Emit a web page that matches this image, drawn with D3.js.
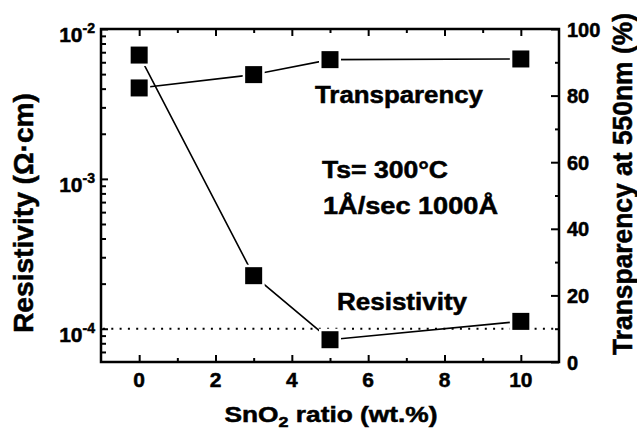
<!DOCTYPE html>
<html><head><meta charset="utf-8">
<script src="https://cdn.jsdelivr.net/npm/d3@7"></script>
<style>
html,body{margin:0;padding:0;background:#fff;}
text{font-family:"Liberation Sans",Arial,Helvetica,sans-serif;font-weight:bold;fill:#000;stroke:#000;stroke-width:0.5px;}
</style></head>
<body>
<svg id="chart" width="637" height="430"></svg>
<script>
// ---- data ----
const ratio = [0, 3, 5, 10];
const resistivity = [6.7e-3, 2.26e-4, 8.45e-5, 1.12e-4];
const transparency = [82.3, 86.3, 90.8, 91.0];
const xTicks = [0, 2, 4, 6, 8, 10];
const xMinorTicks = [1, 3, 5, 7, 9];
const rightTicks = [0, 20, 40, 60, 80, 100];
const rightMinorTicks = [10, 30, 50, 70, 90];
const leftTicks = [1e-2, 1e-3, 1e-4];
const leftTickExponents = ["-2", "-3", "-4"];
const refLine = 1e-4;

// ---- layout ----
const L = 101, R = 559, T = 29, B = 362;
const svg = d3.select("#chart");
const x = d3.scaleLinear().domain([-1, 11]).range([L, R]);
const yL = d3.scaleLog().domain([6e-5, 1e-2]).range([B, T]);
const yR = d3.scaleLinear().domain([0, 100]).range([B, T]);

const leftMinor = [];
[1e-5, 1e-4, 1e-3].forEach(d => { for (let k = 2; k <= 9; k++) { const v = d * k; if (v > 6.05e-5 && v < 1e-2) leftMinor.push(v); } });

function styleAxis(g) {
  g.select(".domain").remove();
  g.selectAll(".tick line").attr("stroke", "#000").attr("stroke-width", 2);
  g.selectAll(".tick text").remove();
}
svg.append("g").attr("transform", `translate(0,${B})`).call(d3.axisBottom(x).tickValues(xTicks).tickSize(-7).tickFormat("")).call(styleAxis);
svg.append("g").attr("transform", `translate(0,${B})`).call(d3.axisBottom(x).tickValues(xMinorTicks).tickSize(-4).tickFormat("")).call(styleAxis);
svg.append("g").attr("transform", `translate(0,${T})`).call(d3.axisTop(x).tickValues(xTicks).tickSize(-7).tickFormat("")).call(styleAxis);
svg.append("g").attr("transform", `translate(0,${T})`).call(d3.axisTop(x).tickValues(xMinorTicks).tickSize(-4).tickFormat("")).call(styleAxis);
svg.append("g").attr("transform", `translate(${L},0)`).call(d3.axisLeft(yL).tickValues(leftTicks).tickSize(-7).tickFormat("")).call(styleAxis);
svg.append("g").attr("transform", `translate(${L},0)`).call(d3.axisLeft(yL).tickValues(leftMinor).tickSize(-5).tickFormat("")).call(styleAxis);
svg.append("g").attr("transform", `translate(${R},0)`).call(d3.axisRight(yR).tickValues(rightTicks).tickSize(-8).tickFormat("")).call(styleAxis);
svg.append("g").attr("transform", `translate(${R},0)`).call(d3.axisRight(yR).tickValues(rightMinorTicks).tickSize(-4).tickFormat("")).call(styleAxis);

// frame
svg.append("rect").attr("x", L).attr("y", T).attr("width", R - L).attr("height", B - T)
  .attr("fill", "none").attr("stroke", "#000").attr("stroke-width", 2.5);

// tick labels
svg.append("g").selectAll("text").data(xTicks).join("text")
  .attr("x", d => x(d)).attr("y", B + 25).attr("text-anchor", "middle")
  .attr("font-size", 21).text(d => d);
svg.append("g").selectAll("text").data(rightTicks).join("text")
  .attr("x", R + 8).attr("y", d => yR(d) + 7.5).attr("text-anchor", "start")
  .attr("font-size", 20).text(d => d);
const lt = svg.append("g").selectAll("text").data(leftTicks).join("text")
  .attr("x", 95).attr("y", d => yL(d) + 13).attr("text-anchor", "end").attr("font-size", 21);
lt.append("tspan").text("10");
lt.append("tspan").attr("font-size", 14).attr("dy", -9).text((d, i) => leftTickExponents[i]);

// reference dotted line
svg.append("line").attr("x1", L + 2).attr("x2", R - 2).attr("y1", yL(refLine)).attr("y2", yL(refLine))
  .attr("stroke", "#000").attr("stroke-width", 2).attr("stroke-dasharray", "2,6.3");

// series
function drawSeries(vals, yScale) {
  const pts = ratio.map((r, i) => [x(r), yScale(vals[i])]);
  svg.append("path").attr("d", d3.line()(pts)).attr("fill", "none").attr("stroke", "#000").attr("stroke-width", 1.6);
  const g = svg.append("g");
  g.selectAll("rect.gap").data(pts).join("rect").attr("class", "gap")
    .attr("x", d => d[0] - 11).attr("y", d => d[1] - 11).attr("width", 22).attr("height", 22).attr("fill", "#fff");
  g.selectAll("rect.mk").data(pts).join("rect").attr("class", "mk")
    .attr("x", d => d[0] - 8.5).attr("y", d => d[1] - 8.5).attr("width", 17).attr("height", 17).attr("fill", "#000");
}
drawSeries(transparency, yR);
drawSeries(resistivity, yL);

// annotations
svg.append("text").attr("x", 315).attr("y", 103).attr("font-size", 23)
  .attr("textLength", 168).attr("lengthAdjust", "spacingAndGlyphs").text("Transparency");
svg.append("text").attr("x", 322).attr("y", 178).attr("font-size", 23)
  .attr("textLength", 126).attr("lengthAdjust", "spacingAndGlyphs").text("Ts= 300°C");
svg.append("text").attr("x", 323).attr("y", 214).attr("font-size", 23)
  .attr("textLength", 175).attr("lengthAdjust", "spacingAndGlyphs").text("1Å/sec  1000Å");
svg.append("text").attr("x", 337).attr("y", 310).attr("font-size", 23)
  .attr("textLength", 130).attr("lengthAdjust", "spacingAndGlyphs").text("Resistivity");

// axis titles
const xt = svg.append("text").attr("x", 331).attr("y", 422).attr("text-anchor", "middle").attr("font-size", 22)
  .attr("textLength", 213).attr("lengthAdjust", "spacingAndGlyphs");
xt.append("tspan").text("SnO");
xt.append("tspan").attr("font-size", 15).attr("dy", 5).text("2");
xt.append("tspan").attr("dy", -5).text(" ratio (wt.%)");

svg.append("text").attr("transform", "translate(33,213) rotate(-90)").attr("text-anchor", "middle")
  .attr("font-size", 27).attr("textLength", 240).attr("lengthAdjust", "spacingAndGlyphs").text("Resistivity (Ω·cm)");
svg.append("text").attr("transform", "translate(632,184) rotate(-90)").attr("text-anchor", "middle")
  .attr("font-size", 27).attr("textLength", 342).attr("lengthAdjust", "spacingAndGlyphs").text("Transparency at 550nm (%)");
</script>
</body></html>
